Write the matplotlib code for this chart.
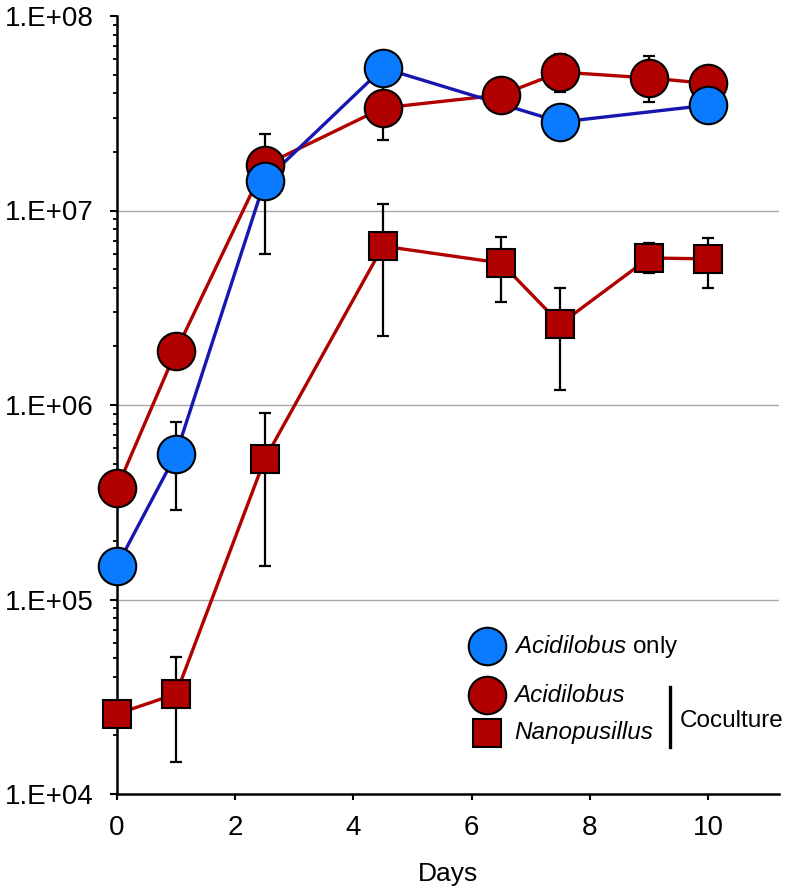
import numpy as np
import matplotlib
matplotlib.use("Agg")
import matplotlib.pyplot as plt
from matplotlib.lines import Line2D

plt.rcParams['font.family'] = ['Liberation Sans', 'DejaVu Sans']
plt.rcParams['mathtext.fontset'] = 'custom'
plt.rcParams['mathtext.rm'] = 'Liberation Sans'
plt.rcParams['mathtext.it'] = 'Liberation Sans:italic'

# ---- data ----
days_only = [0, 1, 2.5, 4.5, 7.5, 10]
acid_only = [1.49e5, 5.6e5, 1.42e7, 5.4e7, 2.85e7, 3.48e7]
acid_only_lo = [1.49e5, 2.9e5, 6.0e6, 5.4e7, 2.85e7, 3.48e7]
acid_only_hi = [1.49e5, 8.2e5, 1.9e7, 5.4e7, 2.85e7, 3.48e7]

days_co = [0, 1, 2.5, 4.5, 6.5, 7.5, 9, 10]
acid_co = [3.74e5, 1.9e6, 1.71e7, 3.37e7, 3.93e7, 5.15e7, 4.8e7, 4.5e7]
acid_co_lo = [3.74e5, 1.9e6, 1.2e7, 2.3e7, 3.93e7, 4.07e7, 3.6e7, 4.5e7]
acid_co_hi = [3.74e5, 1.9e6, 2.47e7, 4.5e7, 3.93e7, 6.4e7, 6.2e7, 4.5e7]

nano_co = [2.58e4, 3.27e4, 5.27e5, 6.56e6, 5.37e6, 2.61e6, 5.7e6, 5.64e6]
nano_co_lo = [2.58e4, 1.46e4, 1.49e5, 2.27e6, 3.39e6, 1.19e6, 4.78e6, 4.0e6]
nano_co_hi = [2.58e4, 5.06e4, 9.1e5, 1.08e7, 7.3e6, 4.0e6, 6.8e6, 7.2e6]

x_ticks = [0, 2, 4, 6, 8, 10]
y_ticks = [1e4, 1e5, 1e6, 1e7, 1e8]
y_ticklabels = ['1.E+04', '1.E+05', '1.E+06', '1.E+07', '1.E+08']
grid_levels = [1e5, 1e6, 1e7]

RED = '#b00000'
BLUE_FILL = '#0a7aff'
BLUE_LINE = '#1616b0'

W, H = 788, 890
fig = plt.figure(figsize=(W / 100, H / 100), dpi=100)
ax = fig.add_axes([117 / W, 1 - 794 / H, (779 - 117) / W, (794 - 16) / H])
ax.set_yscale('log')
ax.set_xlim(0, 11.2)
ax.set_ylim(1e4, 1e8)

for yt in grid_levels:
    ax.axhline(yt, color='#a8a8a8', lw=1.0, zorder=0.5)


def yerr(v, lo, hi):
    v = np.array(v); lo = np.array(lo); hi = np.array(hi)
    return [v - lo, hi - v]


ebkw = dict(fmt='none', ecolor='black', elinewidth=1.6, capsize=4, capthick=1.6, zorder=1.5)
ax.errorbar(days_co, nano_co, yerr=yerr(nano_co, nano_co_lo, nano_co_hi), **ebkw)
ax.errorbar(days_co, acid_co, yerr=yerr(acid_co, acid_co_lo, acid_co_hi), **ebkw)
ax.errorbar(days_only, acid_only, yerr=yerr(acid_only, acid_only_lo, acid_only_hi), **ebkw)

ax.plot(days_co, nano_co, color=RED, lw=2.4, zorder=2)
ax.plot(days_co, acid_co, color=RED, lw=2.4, zorder=2)
ax.plot(days_only, acid_only, color=BLUE_LINE, lw=2.4, zorder=2.1)

ax.plot(days_co, nano_co, ls='none', marker='s', ms=19.5, mfc=RED, mec='black', mew=1.5, zorder=6, clip_on=False)
ax.plot(days_co, acid_co, ls='none', marker='o', ms=27, mfc=RED, mec='black', mew=1.5, zorder=6, clip_on=False)
ax.plot(days_only, acid_only, ls='none', marker='o', ms=27, mfc=BLUE_FILL, mec='black', mew=1.5, zorder=7, clip_on=False)

for s in ['top', 'right']:
    ax.spines[s].set_visible(False)
for s in ['left', 'bottom']:
    ax.spines[s].set_linewidth(1.8)
    ax.spines[s].set_zorder(5)

ax.set_xticks(x_ticks)
ax.set_xticklabels([str(t) for t in x_ticks])
ax.set_yticks(y_ticks)
ax.set_yticklabels(y_ticklabels)
ax.yaxis.set_minor_locator(matplotlib.ticker.LogLocator(base=10, subs=np.arange(2, 10)))
ax.yaxis.set_minor_formatter(matplotlib.ticker.NullFormatter())
ax.tick_params(axis='y', which='major', length=5, width=1.5, pad=12, labelsize=20)
ax.tick_params(axis='y', which='minor', length=3, width=1.3)
ax.tick_params(axis='x', which='major', length=4, width=1.5, pad=11, labelsize=20)
ax.set_xlabel('Days', fontsize=19, labelpad=15)

# ---- legend (drawn manually) ----
def fx(px):
    return px / W

def fy(py):
    return 1 - py / H

fig.add_artist(Line2D([fx(487)], [fy(646)], marker='o', ms=27, mfc=BLUE_FILL, mec='black', mew=1.5, ls='none'))
fig.add_artist(Line2D([fx(487)], [fy(695)], marker='o', ms=27, mfc=RED, mec='black', mew=1.5, ls='none'))
fig.add_artist(Line2D([fx(487)], [fy(733)], marker='s', ms=20, mfc=RED, mec='black', mew=1.5, ls='none'))
fig.text(fx(514), fy(646), r'$\it{Acidilobus}$ only', fontsize=17.5, va='center', ha='left')
fig.text(fx(514), fy(695), 'Acidilobus', fontsize=17.5, style='italic', va='center', ha='left')
fig.text(fx(514), fy(733), 'Nanopusillus', fontsize=17.5, style='italic', va='center', ha='left')
fig.add_artist(Line2D([fx(670), fx(670)], [fy(687), fy(747)], color='black', lw=2.4))
fig.text(fx(680), fy(721), 'Coculture', fontsize=17.5, va='center', ha='left')

fig.savefig('out.png', dpi=100)
